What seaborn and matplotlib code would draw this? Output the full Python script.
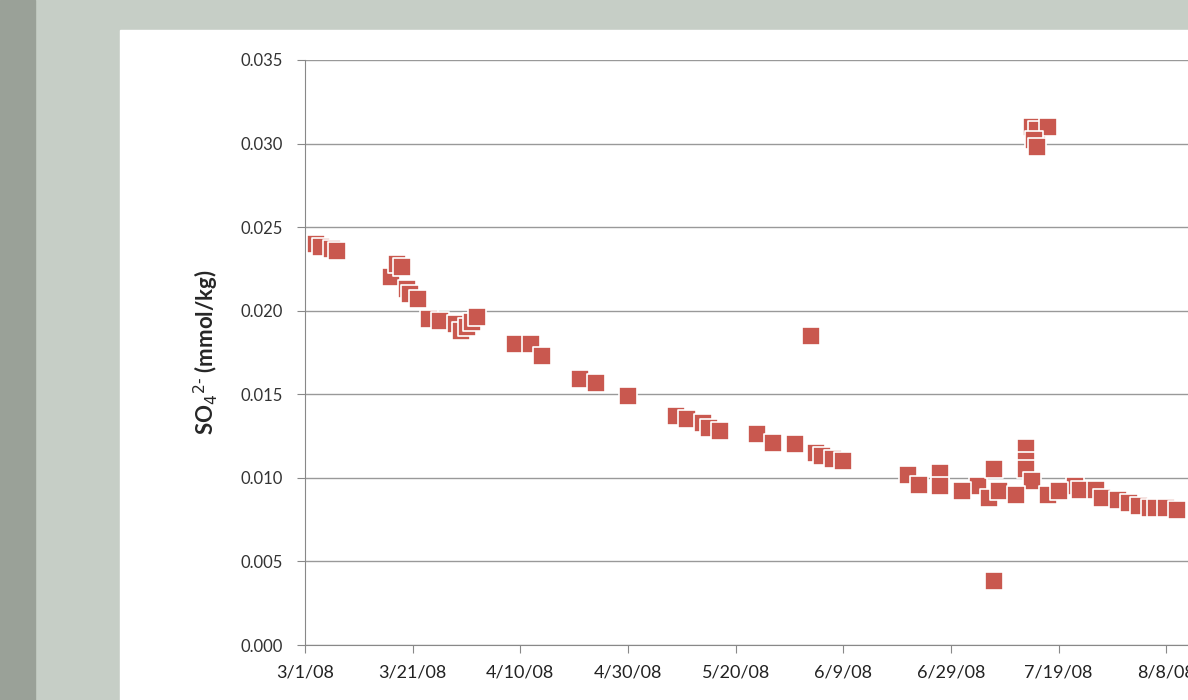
import matplotlib
matplotlib.use("Agg")
import matplotlib.pyplot as plt
from matplotlib.patches import Rectangle
import seaborn as sns
import pandas as pd

dates = ["2008-03-03","2008-03-04","2008-03-06","2008-03-07",
         "2008-03-17","2008-03-18","2008-03-19","2008-03-20","2008-03-20 12:00","2008-03-22",
         "2008-03-24","2008-03-26","2008-03-29","2008-03-30","2008-03-31","2008-04-01","2008-04-02",
         "2008-04-09","2008-04-12","2008-04-14",
         "2008-04-21","2008-04-24","2008-04-30",
         "2008-05-09","2008-05-11","2008-05-14","2008-05-15","2008-05-17",
         "2008-05-24","2008-05-27","2008-05-31","2008-06-03",
         "2008-06-04","2008-06-05","2008-06-07","2008-06-09",
         "2008-06-21","2008-06-27","2008-07-04","2008-07-07","2008-07-07","2008-07-06",
         "2008-07-13","2008-07-13","2008-07-13","2008-07-14",
         "2008-07-14","2008-07-15","2008-07-17","2008-07-14 12:00","2008-07-15",
         "2008-07-22","2008-07-23","2008-07-26","2008-07-27","2008-07-30","2008-08-01",
         "2008-08-03","2008-08-05","2008-08-06","2008-08-08","2008-08-10",
         "2008-06-23","2008-06-27","2008-07-01","2008-07-08","2008-07-11","2008-07-17","2008-07-19"]
so4 = [0.0240,0.0238,0.0237,0.0236,
       0.0220,0.0228,0.0226,0.0213,0.0210,0.0207,
       0.0195,0.0194,0.0192,0.0188,0.0190,0.0193,0.0196,
       0.0180,0.0180,0.0173,
       0.0159,0.0157,0.0149,
       0.0137,0.0135,0.0133,0.0130,0.0128,
       0.0126,0.0121,0.0120,0.0185,
       0.0115,0.0113,0.0111,0.0110,
       0.0102,0.0103,0.0095,0.0105,0.0038,0.0088,
       0.0118,0.0110,0.0105,0.0098,
       0.0310,0.0308,0.0310,0.0302,0.0298,
       0.0095,0.0093,0.0093,0.0088,0.0087,0.0085,
       0.0083,0.0082,0.0082,0.0082,0.0081,
       0.0096,0.0095,0.0092,0.0092,0.0090,0.0090,0.0092]

df = pd.DataFrame({"date": pd.to_datetime(dates, format="mixed"), "so4": so4})

sns.set_style("white")
plt.rcParams['font.family'] = ['Lato', 'DejaVu Sans']
fig = plt.figure(figsize=(11.88, 7), dpi=100)
fig.patch.set_facecolor("#c6cec6")
fig.add_artist(Rectangle((0, 0), 35/1188, 1, transform=fig.transFigure, color="#9aa198", zorder=0))
fig.add_artist(Rectangle((120/1188, 0), 1, 670/700, transform=fig.transFigure, color="white", zorder=0))

ax = fig.add_axes([305/1188, 55/700, 969/1188, 585/700])
ax.set_facecolor("none")
sns.scatterplot(data=df, x="date", y="so4", ax=ax, marker="s", s=160,
                color="#c9584f", edgecolor="white", linewidth=1.2, zorder=3)
ax.set_ylim(0, 0.035)
ax.set_xlim(pd.Timestamp("2008-03-01"), pd.Timestamp("2008-08-28"))
ax.set_yticks([i * 0.005 for i in range(8)])
ax.set_yticklabels([f"{i*0.005:.3f}" for i in range(8)], fontsize=12, color="#333333")
ticks = pd.date_range("2008-03-01", periods=9, freq="20D")
ax.set_xticks(ticks)
ax.set_xticklabels([f"{t.month}/{t.day}/08" for t in ticks], fontsize=13, color="#222222")
ax.grid(axis="y", color="#999999", linewidth=1)
for s in ["top", "right"]:
    ax.spines[s].set_visible(False)
ax.spines["left"].set_color("#888888")
ax.spines["bottom"].set_color("#888888")
ax.tick_params(axis="both", direction="out", length=6, color="#888888", bottom=True, left=True)
ax.tick_params(axis="x", pad=8)
ax.tick_params(axis="y", pad=10)
ax.set_xlabel("")
ax.set_ylabel(r"SO$_4$$^{2\text{-}}$ (mmol/kg)", fontsize=16, fontweight="bold", labelpad=14)
fig.savefig("out.png", dpi=100, facecolor=fig.get_facecolor())
